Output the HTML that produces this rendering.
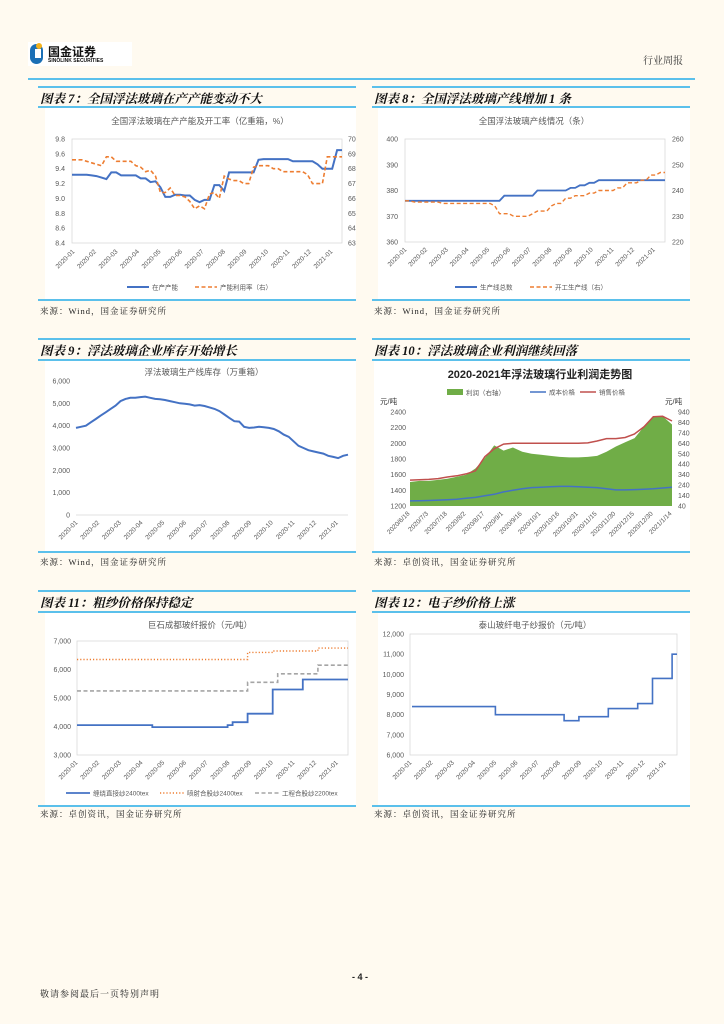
<!DOCTYPE html>
<html><head><meta charset="utf-8">
<style>
html,body{margin:0;padding:0;}
body{width:724px;height:1024px;background:#fffaf0;position:relative;overflow:hidden;font-family:"Liberation Sans","Noto Sans CJK SC",sans-serif;}
.abs{position:absolute;}
.ttl{position:absolute;font-family:"Liberation Serif","Noto Serif CJK SC",serif;font-weight:bold;font-style:italic;font-size:12.5px;color:#111;white-space:nowrap;}
.src{position:absolute;font-family:"Liberation Serif","Noto Serif CJK SC",serif;font-size:8.5px;color:#222;white-space:nowrap;letter-spacing:1px;}
.bl{position:absolute;height:2px;background:#5bc0eb;}
.pnl{position:absolute;background:#fff;}
</style></head>
<body>
<div class="abs" style="left:28px;top:42px;width:104px;height:24px;background:#fff;">
  <div class="abs" style="left:2px;top:2px;width:13px;height:20px;border-radius:7px;background:#1a6fb5;"></div>
  <div class="abs" style="left:8px;top:1px;width:6px;height:6px;border-radius:3px;background:#f5b21b;"></div>
  <div class="abs" style="left:7px;top:7px;width:6px;height:9px;background:#fff;"></div>
  <div class="abs" style="left:20px;top:1px;font-size:12px;font-weight:bold;color:#111;font-family:'Noto Sans CJK SC',sans-serif;">国金证券</div>
  <div class="abs" style="left:20px;top:16px;font-size:5px;font-weight:bold;color:#111;">SINOLINK SECURITIES</div>
</div>
<div class="abs" style="left:643px;top:52px;font-size:10px;color:#333;font-family:'Noto Serif CJK SC',serif;">行业周报</div>
<div class="bl" style="left:28px;top:78px;width:667px;"></div>

<div class="pnl" style="left:45px;top:108px;width:311px;height:191px;"></div>
<div class="pnl" style="left:378px;top:108px;width:312px;height:191px;"></div>
<div class="pnl" style="left:45px;top:360px;width:311px;height:191px;"></div>
<div class="pnl" style="left:374px;top:360px;width:316px;height:191px;"></div>
<div class="pnl" style="left:45px;top:612px;width:311px;height:193px;"></div>
<div class="pnl" style="left:378px;top:612px;width:312px;height:193px;"></div>

<div class="bl" style="left:38px;top:86px;width:318px;"></div><div class="bl" style="left:38px;top:106px;width:318px;"></div><div class="bl" style="left:38px;top:299px;width:318px;"></div>
<div class="bl" style="left:372px;top:86px;width:318px;"></div><div class="bl" style="left:372px;top:106px;width:318px;"></div><div class="bl" style="left:372px;top:299px;width:318px;"></div>
<div class="bl" style="left:38px;top:338px;width:318px;"></div><div class="bl" style="left:38px;top:359px;width:318px;"></div><div class="bl" style="left:38px;top:551px;width:318px;"></div>
<div class="bl" style="left:372px;top:338px;width:318px;"></div><div class="bl" style="left:372px;top:359px;width:318px;"></div><div class="bl" style="left:372px;top:551px;width:318px;"></div>
<div class="bl" style="left:38px;top:590px;width:318px;"></div><div class="bl" style="left:38px;top:611px;width:318px;"></div><div class="bl" style="left:38px;top:805px;width:318px;"></div>
<div class="bl" style="left:372px;top:590px;width:318px;"></div><div class="bl" style="left:372px;top:611px;width:318px;"></div><div class="bl" style="left:372px;top:805px;width:318px;"></div>

<div class="ttl" style="left:40px;top:89px;">图表 7：全国浮法玻璃在产产能变动不大</div>
<div class="ttl" style="left:374px;top:89px;">图表 8：全国浮法玻璃产线增加 1 条</div>
<div class="ttl" style="left:40px;top:341px;">图表 9：浮法玻璃企业库存开始增长</div>
<div class="ttl" style="left:374px;top:341px;">图表 10：浮法玻璃企业利润继续回落</div>
<div class="ttl" style="left:40px;top:593px;">图表 11：粗纱价格保持稳定</div>
<div class="ttl" style="left:374px;top:593px;">图表 12：电子纱价格上涨</div>

<div class="src" style="left:40px;top:305px;">来源：Wind，国金证券研究所</div>
<div class="src" style="left:374px;top:305px;">来源：Wind，国金证券研究所</div>
<div class="src" style="left:40px;top:556px;">来源：Wind，国金证券研究所</div>
<div class="src" style="left:374px;top:556px;">来源：卓创资讯，国金证券研究所</div>
<div class="src" style="left:40px;top:808px;">来源：卓创资讯，国金证券研究所</div>
<div class="src" style="left:374px;top:808px;">来源：卓创资讯，国金证券研究所</div>

<div class="abs" style="left:352px;top:972px;font-size:9px;font-weight:bold;color:#222;">- 4 -</div>
<div class="src" style="left:40px;top:987px;font-size:9px;">敬请参阅最后一页特别声明</div>

<svg id="cv" class="abs" style="left:0;top:0" width="724" height="1024" xmlns="http://www.w3.org/2000/svg"></svg>

<script>
// ---------- data ----------
const months20 = ["2020-01","2020-02","2020-03","2020-04","2020-05","2020-06","2020-07","2020-08","2020-09","2020-10","2020-11","2020-12","2021-01"];
const c7Capacity = [9.32,9.32,9.32,9.32,9.31,9.30,9.28,9.26,9.35,9.35,9.31,9.31,9.31,9.31,9.27,9.27,9.22,9.23,9.15,9.02,9.02,9.05,9.05,9.04,9.04,8.98,8.95,8.98,8.98,9.18,9.18,9.10,9.35,9.35,9.35,9.35,9.35,9.35,9.52,9.53,9.53,9.53,9.53,9.53,9.53,9.50,9.50,9.50,9.50,9.50,9.46,9.40,9.40,9.40,9.65,9.65];
const c7Util = [68.6,68.6,68.6,68.5,68.4,68.3,68.2,68.8,68.8,68.5,68.5,68.5,68.5,68.2,68.1,67.8,67.9,67.5,66.4,66.4,66.7,66.2,66.2,66.1,65.8,65.3,65.5,65.3,66.3,66.4,66.0,67.5,67.3,67.2,67.2,67.0,67.0,68.1,68.2,68.2,68.2,68.0,68.0,67.8,67.8,67.8,67.8,67.8,67.6,67.0,67.0,67.0,68.8,68.8,68.8,68.8];
const c7LeftTicks = [8.4,8.6,8.8,9.0,9.2,9.4,9.6,9.8];
const c7RightTicks = [63,64,65,66,67,68,69,70];

const c8Lines = [376,376,376,376,376,376,376,376,376,376,376,376,376,376,376,376,376,376,376,376,376,378,378,378,378,378,378,378,380,380,380,380,380,380,380,381,381,382,382,383,383,384,384,384,384,384,384,384,384,384,384,384,384,384,384,384];
const c8Working = [236,236,235.5,235.5,235.5,235.5,235.5,235.5,235,235,235,235,235,235,235,235,235,235,235,234,231,231,231,230,230,230,230,231,232,232,232,234,235,235,237,237,238,238,238,239,239,240,240,240,240,241,241,243,243,243,244,244,246,246,247,247];
const c8LeftTicks = [360,370,380,390,400];
const c8RightTicks = [220,230,240,250,260];

const c9Inventory = [3900,3950,4000,4150,4300,4450,4600,4750,4900,5100,5200,5250,5250,5280,5300,5250,5200,5180,5150,5100,5050,5000,4980,4950,4900,4920,4880,4820,4750,4650,4500,4350,4200,4180,3950,3900,3920,3950,3930,3900,3850,3750,3600,3500,3300,3100,3000,2900,2850,2800,2750,2650,2600,2550,2650,2700];
const c9Ticks = [0,1000,2000,3000,4000,5000,6000];

const c10Dates = ["2020/6/18","2020/7/3","2020/7/18","2020/8/2","2020/8/17","2020/9/1","2020/9/16","2020/10/1","2020/10/16","2020/10/31","2020/11/15","2020/11/30","2020/12/15","2020/12/30","2021/1/14"];
const c10Price = [1530,1535,1540,1550,1570,1585,1610,1650,1830,1930,1990,2000,2000,2000,2000,2000,2000,2000,2000,2005,2030,2060,2060,2075,2120,2210,2340,2345,2285];
const c10Cost = [1265,1268,1270,1275,1280,1285,1300,1310,1330,1350,1380,1400,1420,1435,1440,1445,1450,1450,1445,1440,1435,1420,1405,1405,1410,1415,1420,1430,1440];
const c10Profit = [270,280,280,290,300,320,340,400,500,620,570,600,560,540,530,520,510,505,505,510,520,560,610,650,690,800,890,900,820];
const c10LeftTicks = [1200,1400,1600,1800,2000,2200,2400];
const c10RightTicks = [40,140,240,340,440,540,640,740,840,940];

const c11Direct = [4050,4050,4050,4050,4050,4050,4050,4050,4050,4050,4050,4050,4050,4050,4050,3980,3980,3980,3980,3980,3980,3980,3980,3980,3980,3980,3980,3980,3980,3980,4050,4150,4150,4150,4450,4450,4450,4450,4450,5300,5300,5300,5300,5300,5300,5650,5650,5650,5650,5650,5650,5650,5650,5650,5650];
const c11Spray = [6350,6350,6350,6350,6350,6350,6350,6350,6350,6350,6350,6350,6350,6350,6350,6350,6350,6350,6350,6350,6350,6350,6350,6350,6350,6350,6350,6350,6350,6350,6350,6350,6350,6350,6600,6600,6600,6600,6600,6650,6650,6650,6650,6650,6650,6650,6650,6650,6750,6750,6750,6750,6750,6750,6750];
const c11Eng = [5250,5250,5250,5250,5250,5250,5250,5250,5250,5250,5250,5250,5250,5250,5250,5250,5250,5250,5250,5250,5250,5250,5250,5250,5250,5250,5250,5250,5250,5250,5250,5250,5250,5250,5550,5550,5550,5550,5550,5550,5850,5850,5850,5850,5850,5850,5850,5850,6150,6150,6150,6150,6150,6150,6150];
const c11Ticks = [3000,4000,5000,6000,7000];

const c12Price = [8400,8400,8400,8400,8400,8400,8400,8400,8400,8400,8400,8400,8400,8400,8400,8400,8400,8000,8000,8000,8000,8000,8000,8000,8000,8000,8000,8000,8000,8000,8000,7700,7700,7700,7900,7900,7900,7900,7900,7900,8300,8300,8300,8300,8300,8300,8550,8550,8550,9800,9800,9800,9800,11000,11000];
const c12Ticks = [6000,7000,8000,9000,10000,11000,12000];

// ---------- helpers ----------
const NS = "http://www.w3.org/2000/svg";
const cv = document.getElementById('cv');
function E(tag, parent){ const e = document.createElementNS(NS, tag); (parent||cv).appendChild(e); return e; }
function A(e, o){ for (const k in o) e.setAttribute(k, o[k]); return e; }
function T(parent, x, y, s, o){ const t = E('text', parent); A(t, Object.assign({x:x, y:y, 'font-size':7, fill:'#595959', 'font-family':'Liberation Sans, Noto Sans CJK SC, sans-serif'}, o||{})); t.textContent = s; return t; }
function scale(d0, d1, r0, r1){ return v => r0 + (v - d0) / (d1 - d0) * (r1 - r0); }
function pathFor(vals, xs, ys, step){
  let d = '';
  vals.forEach((v, i) => {
    const x = xs(i), y = ys(v);
    if (i === 0) d += 'M' + x.toFixed(1) + ' ' + y.toFixed(1);
    else if (step) d += ' H' + x.toFixed(1) + ' V' + y.toFixed(1);
    else d += ' L' + x.toFixed(1) + ' ' + y.toFixed(1);
  });
  return d;
}
function yTicks(g, ticks, ys, x, anchor, fmt){
  ticks.forEach(v => {
    const t = T(g, x, ys(v) + 2.5, fmt ? fmt(v) : String(v), {'text-anchor': anchor});
    
    
  });
}
function xLabels(g, labels, xs, y){
  labels.forEach((s, i) => {
    const x = xs(i);
    const t = T(g, x, y, s, {'text-anchor':'end', transform:'rotate(-45 ' + x + ' ' + y + ')', 'font-size':6.5});
    
    
  });
}
function box(g, x0, y0, x1, y1){
  const r = E('rect', g); A(r, {x:x0, y:y0, width:x1-x0, height:y1-y0, fill:'none', stroke:'#d9d9d9', 'stroke-width':0.8});
  
  
}
function line(g, d, color, w, dash, name){
  const p = E('path', g); A(p, {d:d, fill:'none', stroke:color, 'stroke-width':w});
  if (dash) p.setAttribute('stroke-dasharray', dash);
  
  
  return p;
}
function legendLine(g, x, y, color, w, dash, label, len){
  const l = E('line', g); A(l, {x1:x, y1:y, x2:x+(len||22), y2:y, stroke:color, 'stroke-width':w});
  if (dash) l.setAttribute('stroke-dasharray', dash);
  
  
  const t = T(g, x + (len||22) + 3, y + 2.5, label, {'font-size':6.5});
  
  
}
const fmtK = v => v.toLocaleString('en-US');
const BLUE = '#4472c4', ORANGE = '#ed7d31', GRAY = '#a5a5a5';

// ---------- chart 7 ----------
(function(){
  const g = E('g');  
  const X0 = 72, X1 = 342, Y0 = 139, Y1 = 243;
  const ysL = scale(8.4, 9.8, Y1, Y0), ysR = scale(63, 70, Y1, Y0);
  const xs = i => X0 + i * (X1 - X0) / (c7Capacity.length - 1);
  const xsU = i => X0 + i * (X1 - X0) / (c7Util.length - 1);
  const xm = i => X0 + 3 + i * 21.5;
  const tt = T(g, 200, 124, '全国浮法玻璃在产产能及开工率（亿重箱，%）', {'text-anchor':'middle', 'font-size':8.5});
   
  box(g, X0, Y0, X1, Y1);
  yTicks(g, c7LeftTicks, ysL, X0 - 7, 'end', v => v.toFixed(1));
  yTicks(g, c7RightTicks, ysR, X1 + 6, 'start');
  xLabels(g, months20, xm, 252);
  line(g, pathFor(c7Capacity, xs, ysL), BLUE, 2, null, 'capacity-line');
  line(g, pathFor(c7Util, xsU, ysR), ORANGE, 1.6, '4 2.5', 'utilization-line');
  legendLine(g, 127, 287, BLUE, 2, null, '在产产能');
  legendLine(g, 195, 287, ORANGE, 1.6, '4 2.5', '产能利用率（右）');
})();

// ---------- chart 8 ----------
(function(){
  const g = E('g');  
  const X0 = 405, X1 = 665, Y0 = 139, Y1 = 242;
  const ysL = scale(360, 400, Y1, Y0), ysR = scale(220, 260, Y1, Y0);
  const xs = i => X0 + i * (X1 - X0) / (c8Lines.length - 1);
  const xsW = i => X0 + i * (X1 - X0) / (c8Working.length - 1);
  const xm = i => X0 + 2 + i * 20.7;
  const tt = T(g, 534, 124, '全国浮法玻璃产线情况（条）', {'text-anchor':'middle', 'font-size':8.5});
   
  box(g, X0, Y0, X1, Y1);
  yTicks(g, c8LeftTicks, ysL, X0 - 7, 'end');
  yTicks(g, c8RightTicks, ysR, X1 + 7, 'start');
  xLabels(g, months20, xm, 250);
  line(g, pathFor(c8Lines, xs, ysL), BLUE, 1.8, null, 'total-lines-line');
  line(g, pathFor(c8Working, xsW, ysR), ORANGE, 1.4, '4 2.5', 'working-lines-line');
  legendLine(g, 455, 287, BLUE, 2, null, '生产线总数');
  legendLine(g, 530, 287, ORANGE, 1.6, '4 2.5', '开工生产线（右）');
})();

// ---------- chart 9 ----------
(function(){
  const g = E('g');  
  const X0 = 76, X1 = 348, Y0 = 381, Y1 = 515;
  const ys = scale(0, 6000, Y1, Y0);
  const xs = i => X0 + i * (X1 - X0) / (c9Inventory.length - 1);
  const xm = i => X0 + 2 + i * 21.7;
  const tt = T(g, 204, 375, '浮法玻璃生产线库存（万重箱）', {'text-anchor':'middle', 'font-size':8.5});
   
  const ax = E('line', g); A(ax, {x1:X0, y1:Y1, x2:X1, y2:Y1, stroke:'#d9d9d9', 'stroke-width':0.8});
   
  yTicks(g, c9Ticks, ys, X0 - 6, 'end', fmtK);
  xLabels(g, months20, xm, 523);
  line(g, pathFor(c9Inventory, xs, ys), BLUE, 2, null, 'inventory-line');
})();

// ---------- chart 10 ----------
(function(){
  const g = E('g');  
  const X0 = 410, X1 = 672, Y0 = 412, Y1 = 506;
  const ysL = scale(1200, 2400, Y1, Y0), ysR = scale(40, 940, Y1, Y0);
  const xs = i => X0 + i * (X1 - X0) / (c10Price.length - 1);
  const xd = i => X0 + i * (X1 - X0) / (c10Dates.length - 1);
  const tt = T(g, 540, 378, '2020-2021年浮法玻璃行业利润走势图', {'text-anchor':'middle', 'font-size':11, 'font-weight':'bold', fill:'#222'});
   
  let d = 'M' + xs(0) + ' ' + Y1 + ' ' + pathFor(c10Profit, xs, ysR).replace('M', 'L') + ' L' + xs(c10Profit.length - 1) + ' ' + Y1 + ' Z';
  const ar = E('path', g); A(ar, {d:d, fill:'#70ad47', stroke:'none'});
   
  line(g, pathFor(c10Cost, xs, ysL), '#4472c4', 1.5, null, 'cost-price-line');
  line(g, pathFor(c10Price, xs, ysL), '#c0504d', 1.5, null, 'sale-price-line');
  yTicks(g, c10LeftTicks, ysL, X0 - 4, 'end');
  yTicks(g, c10RightTicks, ysR, X1 + 6, 'start');
  const u1 = T(g, 380, 404, '元/吨', {'font-size':7.5, fill:'#333'});  
  const u2 = T(g, 665, 404, '元/吨', {'font-size':7.5, fill:'#333'});  
  xLabels(g, c10Dates, xd, 514);
  const sw = E('rect', g); A(sw, {x:447, y:389, width:16, height:6, fill:'#70ad47'});
   
  const lt = T(g, 466, 395, '利润（右轴）', {'font-size':6.5});  
  legendLine(g, 530, 392, '#4472c4', 1.5, null, '成本价格', 16);
  legendLine(g, 580, 392, '#c0504d', 1.5, null, '销售价格', 16);
})();

// ---------- chart 11 ----------
(function(){
  const g = E('g');  
  const X0 = 77, X1 = 348, Y0 = 641, Y1 = 755;
  const ys = scale(3000, 7000, Y1, Y0);
  const xs = i => X0 + i * (X1 - X0) / (c11Direct.length - 1);
  const xm = i => X0 + 1 + i * 21.7;
  const tt = T(g, 200, 628, '巨石成都玻纤报价（元/吨）', {'text-anchor':'middle', 'font-size':8.5});
   
  box(g, X0, Y0, X1, Y1);
  yTicks(g, c11Ticks, ys, X0 - 6, 'end', fmtK);
  xLabels(g, months20, xm, 763);
  line(g, pathFor(c11Eng, xs, ys, true), GRAY, 1.6, '4 2.5', 'engineering-yarn-line');
  line(g, pathFor(c11Spray, xs, ys, true), ORANGE, 1.4, '1.2 2', 'spray-yarn-line');
  line(g, pathFor(c11Direct, xs, ys, true), BLUE, 1.8, null, 'direct-roving-line');
  legendLine(g, 66, 793, BLUE, 1.8, null, '缠绕直接纱2400tex', 24);
  legendLine(g, 160, 793, ORANGE, 1.4, '1.2 2', '喷射合股纱2400tex', 24);
  legendLine(g, 255, 793, GRAY, 1.6, '4 2.5', '工程合股纱2200tex', 24);
})();

// ---------- chart 12 ----------
(function(){
  const g = E('g');  
  const X0 = 410, X1 = 677, Y0 = 634, Y1 = 755;
  const ys = scale(6000, 12000, Y1, Y0);
  const xs = i => X0 + 2 + i * (X1 - X0 - 2) / (c12Price.length - 1);
  const xm = i => X0 + 2 + i * 21.2;
  const tt = T(g, 535, 628, '泰山玻纤电子纱报价（元/吨）', {'text-anchor':'middle', 'font-size':8.5});
   
  box(g, X0, Y0, X1, Y1);
  yTicks(g, c12Ticks, ys, X0 - 6, 'end', fmtK);
  xLabels(g, months20, xm, 763);
  line(g, pathFor(c12Price, xs, ys, true), BLUE, 1.6, null, 'electronic-yarn-line');
})();
</script>
</body></html>
